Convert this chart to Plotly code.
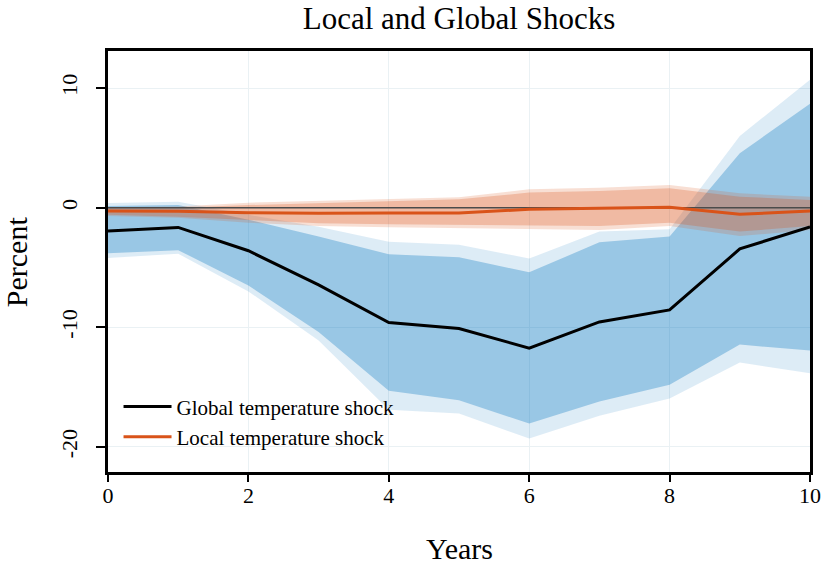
import plotly.graph_objects as go

years = [0, 1, 2, 3, 4, 5, 6, 7, 8, 9, 10]

global_irf = [-1.95, -1.65, -3.6, -6.45, -9.6, -10.1, -11.75, -9.55, -8.55, -3.45, -1.6]
global_inner_hi = [0.14, 0.22, -1.0, -2.4, -3.9, -4.15, -5.4, -2.9, -2.4, 4.55, 8.7]
global_inner_lo = [-3.8, -3.55, -6.5, -10.4, -15.3, -16.1, -18.05, -16.2, -14.8, -11.45, -11.95]
global_outer_hi = [0.4, 0.5, -0.6, -1.6, -2.85, -3.1, -4.25, -2.0, -1.8, 6.0, 10.7]
global_outer_lo = [-4.2, -3.85, -7.0, -11.1, -16.9, -17.2, -19.3, -17.4, -15.95, -12.95, -13.85]

local_irf = [-0.28, -0.3, -0.42, -0.47, -0.45, -0.45, -0.14, -0.05, 0.03, -0.55, -0.28]
local_inner_hi = [-0.05, 0.0, 0.22, 0.37, 0.5, 0.7, 1.26, 1.4, 1.62, 0.92, 0.64]
local_inner_lo = [-0.6, -0.75, -1.03, -1.31, -1.39, -1.45, -1.5, -1.53, -1.25, -2.0, -1.53]
local_outer_hi = [0.03, 0.1, 0.42, 0.59, 0.7, 0.87, 1.54, 1.67, 1.9, 1.2, 0.92]
local_outer_lo = [-0.7, -0.85, -1.25, -1.53, -1.64, -1.72, -1.8, -1.87, -1.53, -2.37, -1.87]

x_ticks = [0, 2, 4, 6, 8, 10]
y_ticks = [-20, -10, 0, 10]
x_range = [0, 10]
y_range = [-22.1, 13.1]

FONT = "Liberation Serif"
BLUE = "0,114,189"
RED = "217,83,25"

fig = go.Figure()


def band(lo, hi, rgba):
    fig.add_trace(go.Scatter(x=years, y=lo, mode="lines", line=dict(width=0),
                             showlegend=False, hoverinfo="skip"))
    fig.add_trace(go.Scatter(x=years, y=hi, mode="lines", line=dict(width=0),
                             fill="tonexty", fillcolor=rgba,
                             showlegend=False, hoverinfo="skip"))


band(global_outer_lo, global_outer_hi, f"rgba({BLUE},0.135)")
band(global_inner_lo, global_inner_hi, f"rgba({BLUE},0.306)")
band(local_outer_lo, local_outer_hi, f"rgba({RED},0.19)")
band(local_inner_lo, local_inner_hi, f"rgba({RED},0.26)")

# zero reference line
fig.add_trace(go.Scatter(x=x_range, y=[0, 0], mode="lines",
                         line=dict(color="rgb(75,75,75)", width=1.6),
                         showlegend=False, hoverinfo="skip"))

fig.add_trace(go.Scatter(x=years, y=global_irf, mode="lines",
                         name="Global temperature shock", legendgroup="g",
                         line=dict(color="black", width=3)))
fig.add_trace(go.Scatter(x=years, y=local_irf, mode="lines",
                         name="Local temperature shock", legendgroup="l",
                         line=dict(color=f"rgb({RED})", width=3)))

fig.update_layout(
    width=823, height=565,
    margin=dict(l=108, r=13, t=51, b=93, autoexpand=False),
    paper_bgcolor="white", plot_bgcolor="white",
    font=dict(family=FONT, color="black"),
    title=dict(text="Local and Global Shocks", x=0.5, xref="paper",
               y=0.968, yref="container", xanchor="center", yanchor="middle",
               font=dict(family=FONT, size=31, color="black")),
    legend=dict(x=0.015, y=0.035, xanchor="left", yanchor="bottom",
                bgcolor="rgba(0,0,0,0)", borderwidth=0, traceorder="normal",
                font=dict(family=FONT, size=21, color="black"),
                itemwidth=48, tracegroupgap=6),
    showlegend=True,
)

fig.update_xaxes(range=x_range, tickvals=x_ticks, ticktext=[str(v) for v in x_ticks],
                 automargin=False,
                 showgrid=True, gridcolor="rgb(234,241,244)", gridwidth=1,
                 zeroline=False, showline=True, linecolor="black", linewidth=2.5,
                 mirror=True, ticks="outside", ticklen=7, tickwidth=1.5, tickcolor="black",
                 tickfont=dict(family=FONT, size=22, color="black"),
                 ticklabelstandoff=-5)
fig.update_yaxes(range=y_range, tickvals=y_ticks, ticktext=[str(v) for v in y_ticks],
                 automargin=False,
                 showgrid=True, gridcolor="rgb(234,241,244)", gridwidth=1,
                 zeroline=False, showline=True, linecolor="black", linewidth=2.5,
                 mirror=True, ticks="outside", ticklen=9, tickwidth=1.5, tickcolor="black",
                 tickangle=-90,
                 tickfont=dict(family=FONT, size=22, color="black"),
                 ticklabelstandoff=10)

fig.add_annotation(text="Years", xref="paper", yref="paper", x=0.5, y=-0.182,
                   xanchor="center", yanchor="middle", showarrow=False,
                   font=dict(family=FONT, size=30, color="black"))
fig.add_annotation(text="Percent", xref="paper", yref="paper", x=-0.13, y=0.5,
                   xanchor="center", yanchor="middle", showarrow=False, textangle=-90,
                   font=dict(family=FONT, size=30, color="black"))

fig.write_html("out.html", config={"displayModeBar": False},
               post_script="document.body.style.margin='0';document.body.style.padding='0';")
